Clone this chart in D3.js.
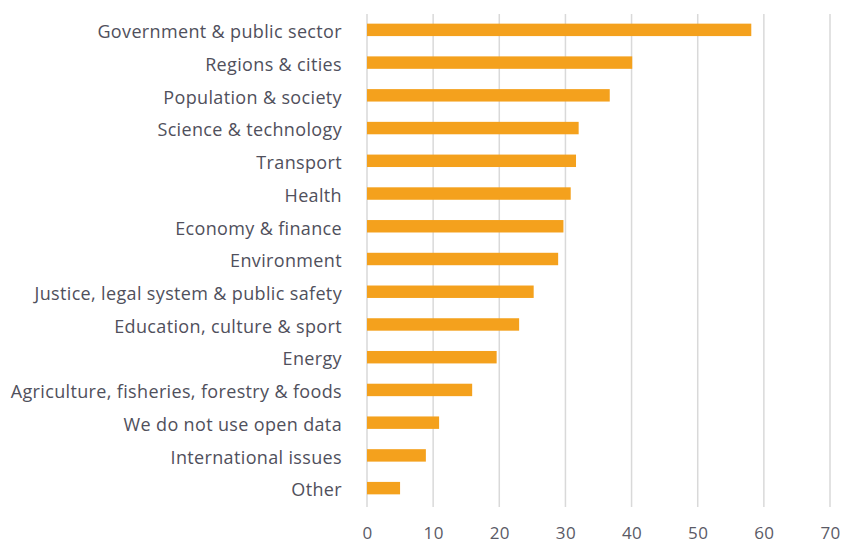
<!DOCTYPE html>
<html>
<head>
<meta charset="utf-8">
<script src="https://cdn.jsdelivr.net/npm/d3@7"></script>
<style>
  html, body { margin: 0; padding: 0; background: #ffffff; }
  svg { display: block; }
  text { font-family: "Open Sans", "DejaVu Sans", sans-serif; }
</style>
</head>
<body>
<svg id="chart" width="844" height="546"></svg>
<script>
// Open data usage by domain (share of respondents, %)
const categories = [
  "Government & public sector",
  "Regions & cities",
  "Population & society",
  "Science & technology",
  "Transport",
  "Health",
  "Economy & finance",
  "Environment",
  "Justice, legal system & public safety",
  "Education, culture & sport",
  "Energy",
  "Agriculture, fisheries, forestry & foods",
  "We do not use open data",
  "International issues",
  "Other"
];
const values = [58.1, 40.1, 36.7, 32.0, 31.6, 30.8, 29.7, 28.9, 25.2, 23.0, 19.6, 15.9, 10.9, 8.9, 5.0];
const xTicks = [0, 10, 20, 30, 40, 50, 60, 70];

const svg = d3.select("#chart");

const x = d3.scaleLinear().domain([0, 70]).range([367, 830]);
const y = d3.scaleBand().domain(categories).range([13.5, 504.5]).paddingInner(0.62).paddingOuter(0.31);

// vertical gridlines
svg.append("g")
  .selectAll("line")
  .data(xTicks)
  .join("line")
  .attr("x1", d => x(d))
  .attr("x2", d => x(d))
  .attr("y1", 14)
  .attr("y2", 507)
  .attr("stroke", "#d9d9d9")
  .attr("stroke-width", 1.5);

// bars
svg.append("g")
  .selectAll("rect")
  .data(values)
  .join("rect")
  .attr("x", x(0))
  .attr("y", (d, i) => y(categories[i]))
  .attr("width", d => x(d) - x(0))
  .attr("height", y.bandwidth())
  .attr("fill", "#f4a11d");

// category labels
const yAxis = d3.axisLeft(y).tickSize(0).tickPadding(0);
const gy = svg.append("g").attr("transform", "translate(342,2.5)").call(yAxis);
gy.select(".domain").remove();
gy.selectAll("text")
  .attr("fill", "#50505c")
  .style("font-size", "18px")
  .style("letter-spacing", "0.35px");

// value axis labels
const xAxis = d3.axisBottom(x).tickValues(xTicks).tickSize(0).tickPadding(0);
const gx = svg.append("g").attr("transform", "translate(0,527)").call(xAxis);
gx.select(".domain").remove();
gx.selectAll("text")
  .attr("fill", "#5a5a66")
  .style("font-size", "17px")
  .style("letter-spacing", "0.4px");
</script>
</body>
</html>
